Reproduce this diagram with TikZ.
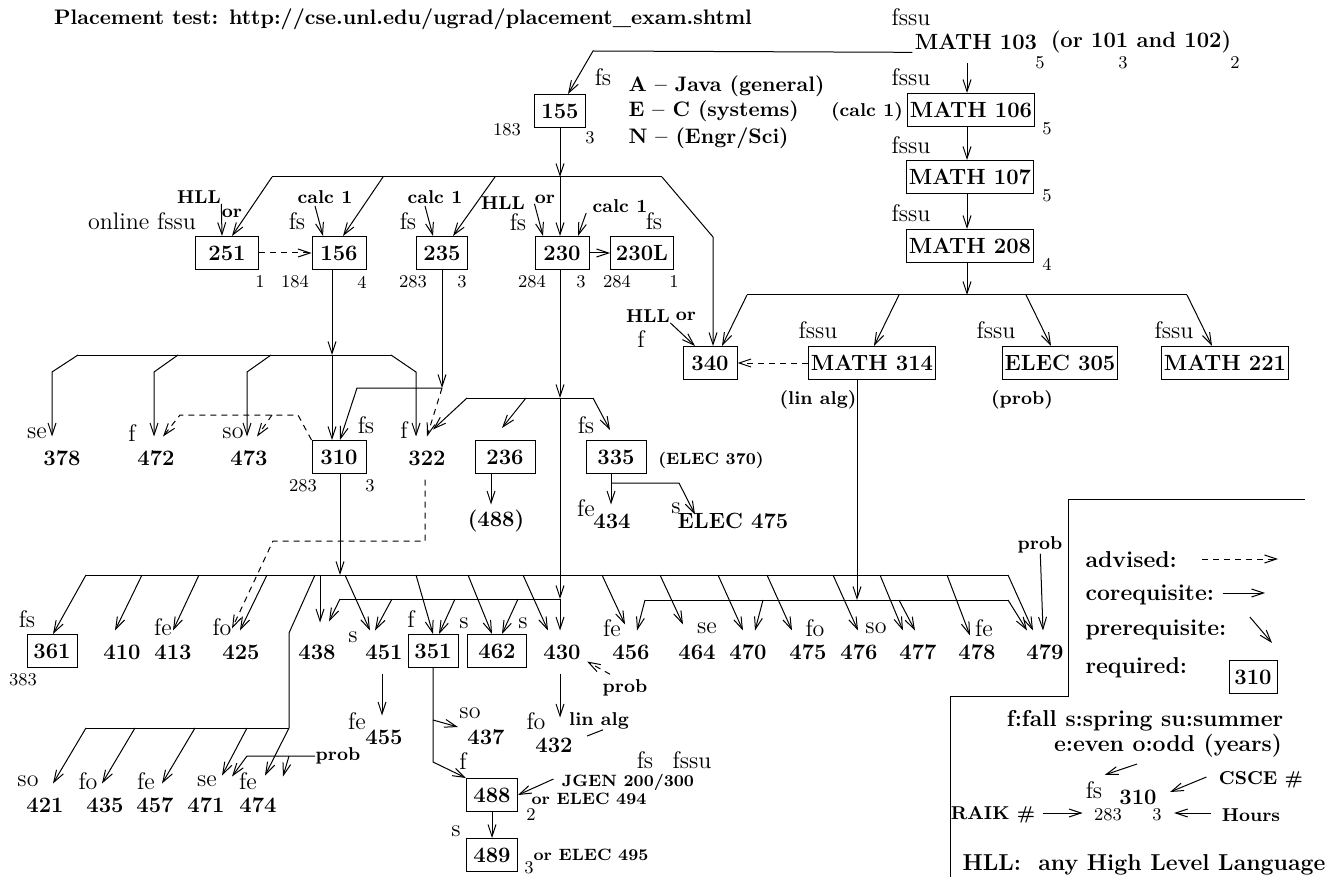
\documentclass[tikz,border=0pt]{standalone}
\usepackage{fontspec}
\usepackage{tikz}
\usetikzlibrary{arrows.meta,calc}

\newcommand{\fnum}{\fontsize{11}{13}\selectfont\bfseries}
\newcommand{\fsem}{\fontsize{12}{14}\selectfont}
\newcommand{\fhrs}{\fontsize{9}{10}\selectfont}
\newcommand{\fnote}{\fontsize{9.3}{11}\selectfont\bfseries}
\newcommand{\fcond}{\fontsize{8.2}{10}\selectfont\bfseries}
\newcommand{\fleg}{\fontsize{11.5}{13}\selectfont\bfseries}
\newcommand{\ftitle}{\fontsize{10.5}{12}\selectfont\bfseries}

\begin{document}
\begin{tikzpicture}[
    x=0.5pt, y=-0.5pt, line width=0.5pt,
    box/.style={draw, line width=0.5pt, minimum width=27pt, minimum height=16.5pt, inner sep=1pt, font=\fnum},
    mbox/.style={box, inner xsep=1pt},
    num/.style={font=\fnum, inner sep=0pt, minimum height=21pt},
    sem/.style={font=\fsem, inner sep=0pt},
    hrs/.style={font=\fhrs, inner sep=0pt},
    note/.style={font=\fnote, inner sep=0pt},
    cond/.style={font=\fcond, inner sep=0pt},
    leg/.style={font=\fleg, inner sep=0pt},
    arr/.style={-{Straight Barb[length=6pt,width=4pt]}},
    adv/.style={arr, dash pattern=on 3pt off 2.5pt}
]
\useasboundingbox (0,0) rectangle (1333,877);

\node[font=\ftitle, inner sep=0pt] (title) at (403,19) {Placement test: http://cse.unl.edu/ugrad/placement\_exam.shtml};

% math track
\node[sem] (fm103) at (911,17) {fssu};
\node[font=\fnum, inner sep=1pt] (m103) at (976,42) {MATH 103};
\node[hrs] (h103) at (1040,63) {5};
\node[font=\fnum, inner sep=1pt] (m101) at (1141,42) {(or 101 and 102)};
\node[hrs] (h101) at (1123,63) {3};
\node[hrs] (h102) at (1235,63) {2};
\node[mbox] (m106) at (971,110) {MATH 106};
\node[sem] (fm106) at (911,77) {fssu};
\node[hrs] (h106) at (1047,129) {5};
\node[note] (calc106) at (867,112) {(calc 1)};
\node[mbox] (m107) at (970,177) {MATH 107};
\node[sem] (fm107) at (911,145) {fssu};
\node[hrs] (h107) at (1047,196) {5};
\node[mbox] (m208) at (970,246) {MATH 208};
\node[sem] (fm208) at (911,213) {fssu};
\node[hrs] (h208) at (1047,264) {4};
\node[box] (c340) at (710,363) {340};
\node[mbox] (m314) at (872,363) {MATH 314};
\node[mbox] (e305) at (1060,363) {ELEC 305};
\node[mbox] (m221) at (1225,363) {MATH 221};
\node[note] (hll340) at (648,316) {HLL};
\node[note] (or340) at (686,316) {or};
\node[sem] (s340) at (641,339) {f};
\node[sem] (s314) at (818,330) {fssu};
\node[sem] (s305) at (996,330) {fssu};
\node[sem] (s221) at (1174,330) {fssu};
\node[note] (lin314) at (818,400) {(lin alg)};
\node[note] (prob305) at (1022,400) {(prob)};

% first courses
\node[box, minimum width=25.5pt] (c155) at (560,111) {155};
\node[sem] (fs155) at (603,77) {fs};
\node[hrs] (r155) at (507,130) {183};
\node[hrs] (h155) at (590,138) {3};
\node[font=\ftitle, inner sep=0pt, anchor=west] (langA) at (628,86) {A -- Java (general)};
\node[font=\ftitle, inner sep=0pt, anchor=west] (langE) at (628,111) {E -- C (systems)};
\node[font=\ftitle, inner sep=0pt, anchor=west] (langN) at (628,138) {N -- (Engr/Sci)};

\node[box, minimum width=31.5pt] (c251) at (227,253) {251};
\node[box] (c156) at (339,253) {156};
\node[box, minimum width=25.5pt] (c235) at (442,253) {235};
\node[box] (c230) at (562,253) {230};
\node[box, minimum width=31.5pt] (c230L) at (642,253) {230L};
\node[note] (hll251) at (199,197) {HLL};
\node[note] (or251) at (232,213) {or};
\node[sem] (fs251) at (142,221) {online fssu};
\node[note] (calc156) at (325,197) {calc 1};
\node[sem] (fs156) at (297,221) {fs};
\node[note] (calc235) at (435,197) {calc 1};
\node[sem] (fs235) at (408,221) {fs};
\node[note] (hll230) at (503,203) {HLL};
\node[sem] (fs230) at (518,222) {fs};
\node[note] (or230) at (545,199) {or};
\node[note] (calc230) at (620,206) {calc 1};
\node[sem] (fs230L) at (654,221) {fs};
\node[hrs] (h251) at (260,282) {1};
\node[hrs] (r156) at (295,282) {184};
\node[hrs] (h156) at (362,282) {4};
\node[hrs] (r235) at (413,282) {283};
\node[hrs] (h235) at (462,282) {3};
\node[hrs] (r230) at (532,282) {284};
\node[hrs] (h230) at (581,282) {3};
\node[hrs] (r230L) at (617,282) {284};
\node[hrs] (h230L) at (674,282) {1};

% 300 level
\node[num] (n378) at (62,458) {378};
\node[num] (n472) at (156,458) {472};
\node[num] (n473) at (249,458) {473};
\node[box] (c310) at (339,457) {310};
\node[num] (n322) at (427,458) {322};
\node[box, minimum width=30pt] (c236) at (505,457) {236};
\node[box, minimum width=30pt] (c335) at (616,457) {335};
\node[sem] (s378) at (37,433) {se};
\node[sem] (s472) at (132,433) {f};
\node[sem] (s473) at (233,433) {so};
\node[sem] (s310) at (366,425) {fs};
\node[sem] (s322) at (404,430) {f};
\node[hrs] (r310) at (303,486) {283};
\node[hrs] (h310) at (370,486) {3};
\node[sem] (s335) at (586,425) {fs};
\node[cond] (e370) at (711,460) {(ELEC 370)};
\node[num, minimum height=16pt] (n488p) at (496,521) {(488)};
\node[num, minimum height=16pt] (n434) at (612,521) {434};
\node[num, minimum height=16pt] (e475) at (733,521) {ELEC 475};
\node[sem] (s434) at (586,508) {fe};
\node[sem] (s475e) at (676,508) {s};

% 400 level
\node[box, minimum width=25pt] (c361) at (52,651) {361};
\node[num] (n410) at (122,652) {410};
\node[num] (n413) at (173,652) {413};
\node[num] (n425) at (241,652) {425};
\node[num] (n438) at (317,652) {438};
\node[num] (n451) at (384,652) {451};
\node[box, minimum width=25pt] (c351) at (433,651) {351};
\node[box, minimum width=29.5pt] (c462) at (497,651) {462};
\node[num] (n430) at (562,652) {430};
\node[num] (n456) at (631,652) {456};
\node[num] (n464) at (697,652) {464};
\node[num] (n470) at (748,652) {470};
\node[num] (n475) at (808,652) {475};
\node[num] (n476) at (859,652) {476};
\node[num] (n477) at (918,652) {477};
\node[num] (n478) at (977,652) {478};
\node[num] (n479) at (1045,652) {479};
\node[sem] (s361) at (27,619) {fs};
\node[hrs] (r361) at (23,680) {383};
\node[sem] (s413) at (163,627) {fe};
\node[sem] (s425) at (222,627) {fo};
\node[sem] (s451) at (353,637) {s};
\node[sem] (s351) at (411,619) {f};
\node[sem] (s462a) at (464,623) {s};
\node[sem] (s462b) at (523,623) {s};
\node[sem] (s456) at (612,628) {fe};
\node[sem] (s464) at (707,628) {se};
\node[sem] (s475) at (815,628) {fo};
\node[sem] (s476) at (876,628) {so};
\node[sem] (s478) at (984,628) {fe};
\node[note] (prob479) at (1040,545) {prob};

\node[num] (n421) at (45,805) {421};
\node[num] (n435) at (105,805) {435};
\node[num] (n457) at (155,805) {457};
\node[num] (n471) at (206,805) {471};
\node[num] (n474) at (258,805) {474};
\node[sem] (s421) at (28,781) {so};
\node[sem] (s435) at (88,781) {fo};
\node[sem] (s457) at (146,781) {fe};
\node[sem] (s471) at (207,781) {se};
\node[sem] (s474) at (248,781) {fe};
\node[note] (prob474) at (338,756) {prob};
\node[num] (n455) at (384,737) {455};
\node[sem] (s455) at (357,721) {fe};
\node[num] (n437) at (486,737) {437};
\node[sem] (s437) at (470,713) {so};
\node[num] (n432) at (554,745) {432};
\node[sem] (s432) at (536,721) {fo};
\node[note] (lin432) at (599,721) {lin alg};
\node[note] (prob430) at (625,688) {prob};
\node[box, minimum width=25.5pt] (c488) at (492,795) {488};
\node[sem] (s488) at (463,761) {f};
\node[hrs] (h488) at (531,814) {2};
\node[cond] (jgen) at (628,782) {JGEN 200/300};
\node[cond] (e494) at (589,799) {or ELEC 494};
\node[sem] (s488b) at (645,760) {fs};
\node[sem] (s488c) at (692,760) {fssu};
\node[box, minimum width=25.5pt] (c489) at (492,855) {489};
\node[sem] (s489) at (456,831) {s};
\node[hrs] (h489) at (529,868) {3};
\node[cond] (e495) at (591,855) {or ELEC 495};

% legend
\node[leg, anchor=west] (lgadv) at (1085,560) {advised:};
\node[leg, anchor=west] (lgcor) at (1085,595) {corequisite:};
\node[leg, anchor=west] (lgpre) at (1085,630) {prerequisite:};
\node[leg, anchor=west] (lgreq) at (1085,668) {required:};
\node[box, minimum width=24pt] (lg310) at (1253,677) {310};
\node[leg] (lgsem) at (1145,721) {f:fall s:spring su:summer};
\node[leg] (lgeo) at (1168,746) {e:even o:odd (years)};
\node[sem] (smpfs) at (1094,790) {fs};
\node[font=\fnum, inner sep=0pt] (smp310) at (1138,797) {310};
\node[hrs] (smp283) at (1108,815) {283};
\node[hrs] (smp3) at (1157,815) {3};
\node[note] (lgcsce) at (1261,780) {CSCE \#};
\node[note] (lghrs) at (1251,815) {Hours};
\node[note] (lgraik) at (993,815) {RAIK \#};
\node[leg] (lghll) at (1144,865) {HLL:\ \ any High Level Language};

% bus points
\coordinate (k103) at (593,51);
\coordinate (k208) at (967,295);
\coordinate (k208a) at (747,295);
\coordinate (k208b) at (899,295);
\coordinate (k208c) at (1026,295);
\coordinate (k208d) at (1187,295);
\coordinate (k155a) at (272,177);
\coordinate (k155b) at (383,177);
\coordinate (k155c) at (495,177);
\coordinate (k155d) at (560,177);
\coordinate (k155e) at (662,177);
\coordinate (k155f) at (713,237);
\coordinate (k156) at (332,355);
\coordinate (k2a) at (78,355);
\coordinate (k2b) at (178,355);
\coordinate (k2c) at (271,355);
\coordinate (k2d) at (391,355);
\coordinate (k235) at (442,388);
\coordinate (k310a) at (298,415);
\coordinate (k310b) at (272,415);
\coordinate (k3) at (560,398);
\coordinate (k3a) at (467,398);
\coordinate (k3b) at (526,398);
\coordinate (k3c) at (593,398);
\coordinate (k322) at (425,541);
\coordinate (k4) at (340,575);
\coordinate (k4a) at (86,575);
\coordinate (k4b) at (142,575);
\coordinate (k4c) at (199,575);
\coordinate (k4d) at (267,575);
\coordinate (k4e) at (315,575);
\coordinate (k4f) at (320,575);
\coordinate (k4g) at (345,575);
\coordinate (k4h) at (416,575);
\coordinate (k4i) at (468,575);
\coordinate (k4j) at (523,575);
\coordinate (k4k) at (602,575);
\coordinate (k4l) at (660,575);
\coordinate (k4m) at (718,575);
\coordinate (k4n) at (767,575);
\coordinate (k4o) at (833,575);
\coordinate (k4p) at (880,575);
\coordinate (k4q) at (947,575);
\coordinate (k4r) at (1008,575);
\coordinate (k7) at (560,599);
\coordinate (k7a) at (340,599);
\coordinate (k7b) at (392,599);
\coordinate (k7c) at (455,599);
\coordinate (k7d) at (518,599);
\coordinate (k6) at (857,600);
\coordinate (k6a) at (645,600);
\coordinate (k6b) at (763,600);
\coordinate (k6c) at (899,600);
\coordinate (k6d) at (1008,600);
\coordinate (k5a) at (86,728);
\coordinate (k5b) at (289,728);
\coordinate (k5c) at (135,728);
\coordinate (k5d) at (195,728);
\coordinate (k5e) at (247,728);
\coordinate (kp474) at (247,756);
\coordinate (kp474b) at (289,756);
\coordinate (k351) at (433,720);

% math connectors
\draw[arr] (m103.south west) -- (k103) -- ($(c155.north)+(8,0)$);
\draw[arr] ($(m103.south)+(-9,11)$) -- ($(m106.north)+(-4,0)$);
\draw[arr] ($(m106.south)+(-4,0)$) -- ($(m107.north)+(-3,0)$);
\draw[arr] ($(m107.south)+(-3,0)$) -- ($(m208.north)+(-3,0)$);
\draw[arr] ($(m208.south)+(-3,0)$) -- (k208);
\draw (k208a) -- (k208d);
\draw[arr] (k208a) -- ($(c340.north)+(12,0)$);
\draw[arr] (k208b) -- ($(m314.north)+(2,0)$);
\draw[arr] (k208c) -- ($(e305.north)+(-9,0)$);
\draw[arr] (k208d) -- ($(m221.north)+(-13,0)$);
\draw[adv] (m314) -- (c340);
\draw[arr] (hll340.south east) -- ($(c340.north)+(-15,0)$);

% 155 and second row
\draw[arr] (c155) -- (k155d);
\draw (k155a) -- (k155e);
\draw[arr] (k155a) -- ($(c251.north)+(5,0)$);
\draw[arr] (k155b) -- ($(c156.north)+(4,0)$);
\draw[arr] (k155c) -- ($(c235.north)+(11,0)$);
\draw[arr] (k155d) -- (k155d |- c230.north);
\draw[arr] (k155e) -- (k155f) -- (k155f |- c340.north);
\draw[arr] (hll251.south east) -- ($(c251.north)+(-5,0)$);
\draw[arr] ($(calc156.south)+(-10,2)$) -- ($(c156.north)+(-16,0)$);
\draw[arr] ($(calc235.south)+(-10,2)$) -- ($(c235.north)+(-9,0)$);
\draw[arr] (or230.south west) -- ($(c230.north)+(-19,0)$);
\draw[arr] ($(calc230.south west)+(-6,0)$) -- ($(c230.north)+(16,0)$);
\draw[arr] (c230) -- (c230L);
\draw[adv] (c251) -- (c156);

% 156, 235 down
\draw[arr] ($(c156.south)+(-7,0)$) -- (k156);
\draw[arr] (k156) -- ($(c310.north)+(-7,0)$);
\draw (k2a) -- (k2d);
\draw[arr] (k2a) -- ++(-26,17) -- ($(n378.north)+(-10,0)$);
\draw[arr] (k2b) -- ++(-24,17) -- ($(n472.north)+(-2,0)$);
\draw[arr] (k2c) -- ++(-24,17) -- ($(n473.north)+(-2,0)$);
\draw[arr] (k2d) -- ++(25,17) -- ($(n322.north)+(-11,0)$);
\draw[arr] (c235) -- (k235);
\draw[arr] (k235) -- ++(-85,0) -- ($(c310.north)+(1,0)$);
\draw[adv] (k235) -- (n322.north);
\draw[adv] (c310.north west) -- (k310a) -- ++(-118,0) -- ($(n472.north)+(7,0)$);
\draw[adv] (k310b) -- ($(n473.north)+(8,0)$);

% 230 down
\draw[arr] ($(c230.south)+(-2,0)$) -- (k3);
\draw (k3a) -- (k3c);
\draw[arr] (k3a) -- ($(n322.north)+(6,-7)$);
\draw[arr] (k3b) -- ($(c236.north)+(-3,-12)$);
\draw[arr] (k3c) -- ($(c335.north)+(-6,-10)$);
\draw[arr] (k3) -- (k7);
\draw[arr] (k7) -- (k7 |- n430.north);
\draw[arr] ($(c236.south)+(-14,0)$) -- ($(n488p.north)+(-5,0)$);
\draw[arr] ($(c335.south)+(-5,0)$) -- ($(n434.north)+(-1,0)$);
\draw[arr] ($(c335.south)+(-5,9)$) -- ++(68,0) -- ($(e475.north)+(-38,10)$);

% 310 down
\draw[arr] ($(c310.south)+(1,0)$) -- (k4);
\draw (k4a) -- (k4r);
\draw[arr] (k4a) -- ($(c361.north)+(1,0)$);
\draw[arr] (k4b) -- ($(n410.north)+(-7,0)$);
\draw[arr] (k4c) -- (n413.north);
\draw[arr] (k4d) -- ($(n425.north)+(-1,0)$);
\draw (k4e) -- ++(-26,58) -- (k5b);
\draw[arr] (k4f) -- ($(n438.north)+(3,-8)$);
\draw[arr] (k4g) -- ($(n451.north)+(-14,0)$);
\draw[arr] (k4h) -- (c351.north);
\draw[arr] (k4i) -- ($(c462.north)+(-5,0)$);
\draw[arr] (k4j) -- ($(n430.north)+(-14,0)$);
\draw[arr] (k4k) -- ($(n456.north)+(-6,-6)$);
\draw[arr] (k4l) -- ($(n464.north)+(-14,-6)$);
\draw[arr] (k4m) -- ($(n470.north)+(-5,0)$);
\draw[arr] (k4n) -- ($(n475.north)+(-16,0)$);
\draw[arr] (k4o) -- ($(n476.north)+(-1,0)$);
\draw[arr] (k4p) -- ($(n477.north)+(-15,0)$);
\draw[arr] (k4q) -- ($(n478.north)+(-7,5)$);
\draw[arr] (k4r) -- ($(n479.north)+(-12,0)$);
\draw (k7a) -- (k7);
\draw[arr] (k7a) -- ($(n438.north)+(12,-9)$);
\draw[arr] (k7b) -- ($(n451.north)+(-9,0)$);
\draw[arr] (k7c) -- ($(c351.north)+(6,0)$);
\draw[arr] (k7d) -- ($(c462.north)+(5,0)$);
\draw[arr] ($(m314.south)+(-15,0)$) -- (k6);
\draw (k6a) -- (k6d);
\draw[arr] (k6a) -- ($(n456.north)+(6,0)$);
\draw[arr] (k6b) -- ($(n470.north)+(7,0)$);
\draw[arr] (k6c) -- ($(n477.north)+(-3,0)$);
\draw[arr] (k6d) -- ($(n479.north)+(-18,0)$);
\draw[arr] (prob479) -- ($(n479.north)+(-2,0)$);
\draw[adv] ($(n322.south)+(-2,0)$) -- (k322) -- ++(-152,0) -- ($(n425.north)+(-9,-2)$);

% lower rows
\draw (k5a) -- (k5b);
\draw[arr] (k5a) -- ($(n421.north)+(8,0)$);
\draw[arr] (k5c) -- ($(n435.north)+(-3,0)$);
\draw[arr] (k5d) -- ($(n457.north)+(7,0)$);
\draw[arr] (k5e) -- ($(n471.north)+(16,-8)$);
\draw[arr] (k5b) -- ($(n474.north)+(7,-8)$);
\draw[arr] (prob474.west) -- (kp474) -- ($(n471.north)+(26,-7)$);
\draw[arr] (kp474b) -- ($(n474.north)+(25,-7)$);
\draw[arr] ($(n451.south)+(-2,0)$) -- ($(n455.north)+(-2,0)$);
\draw[arr] (c351) -- ++(0,111) -- (c488.north west);
\draw[arr] (k351) -- ($(n437.west)+(-9,-10)$);
\draw[arr] ($(n430.south)+(-2,0)$) -- ($(n432.north)+(6,-6)$);
\draw ($(lin432.south)+(4,0)$) -- ($(n432.east)+(14,-9)$);
\draw[adv] ($(prob430.north)+(-15,-5)$) -- ($(n430.south east)+(6,-12)$);
\draw[arr] ($(jgen.west)+(-8,-3)$) -- (c488.east);
\draw[arr] (c488) -- (c489);

% legend
\draw (1305,499) -- (1068,499) -- (1068,696) -- (950,696) -- (950,877);
\coordinate (la1) at (1278,559);
\coordinate (la2) at (1265,593);
\coordinate (la3) at (1272,643);
\draw[adv] ($(lgadv.east)+(25,-1)$) -- (la1);
\draw[arr] ($(lgcor.east)+(8,-2)$) -- (la2);
\draw[arr] ($(lgpre.east)+(23,-13)$) -- (la3);
\draw[arr] ($(lgeo.south)+(-31,6)$) -- ($(smpfs.north east)+(2,-6)$);
\draw[arr] ($(lgcsce.west)+(-12,-3)$) -- ($(smp310.east)+(13,-5)$);
\draw[arr] ($(lghrs.west)+(-10,-2)$) -- ($(smp3.east)+(12,-2)$);
\draw[arr] ($(lgraik.east)+(7,-2)$) -- ($(smp283.west)+(-11,-2)$);
\end{tikzpicture}
\end{document}
